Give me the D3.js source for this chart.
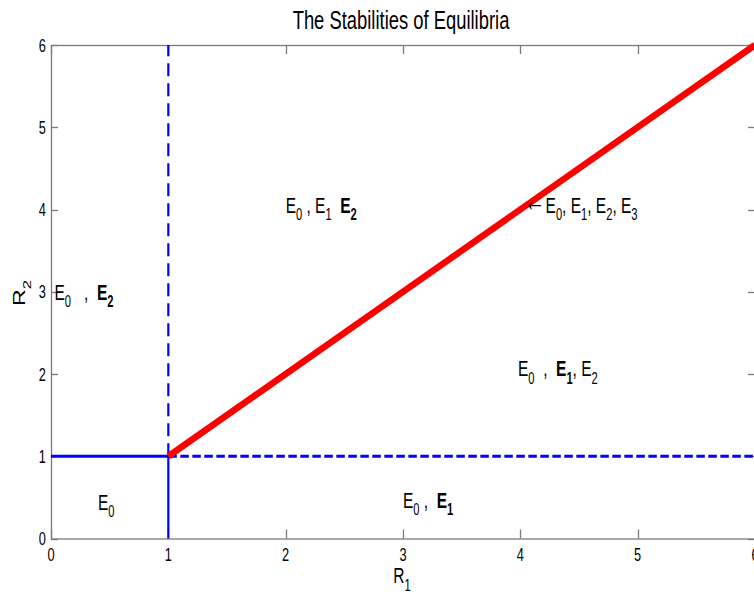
<!DOCTYPE html>
<html>
<head>
<meta charset="utf-8">
<script src="https://cdn.jsdelivr.net/npm/d3@7"></script>
<style>
  body { margin: 0; background: #fff; }
  svg { display: block; }
  text { font-family: "Liberation Sans", Arial, Helvetica, sans-serif; fill: #000; white-space: pre; }
</style>
</head>
<body>
<svg id="chart" width="754" height="600"></svg>
<script>
// ---- data ----
const xTicks = [0, 1, 2, 3, 4, 5, 6];
const yTicks = [0, 1, 2, 3, 4, 5, 6];
// Stability boundaries as [R1a, R2a, R1b, R2b]
const solidBoundaries = [[0, 1, 1, 1], [1, 0, 1, 1]];
const dashedBoundaries = [[1, 1, 1, 6], [1, 1, 6, 1]];
// R1 = R2 line where all four equilibria coexist
const diagonalR1 = [1, 6];
const diagonalR2 = [1, 6];
// Region annotations: anchor (R1, R2) and pieces [text, subscript, bold, enlarged]
const regionLabels = [
  { r1: 0.40, r2: 0.35, pieces: [["E", "0", 0]] },
  { r1: 3.00, r2: 0.37, pieces: [["E", "0", 0], [" ,  "], ["E", "1", 1]] },
  { r1: 2.00, r2: 3.96, pieces: [["E", "0", 0], [" , "], ["E", "1", 0], ["  "], ["E", "2", 1]] },
  { r1: 0.03, r2: 2.90, pieces: [["E", "0", 0], ["   ,  "], ["E", "2", 1]] },
  { r1: 3.98, r2: 1.97, pieces: [["E", "0", 0], ["  ,  "], ["E", "1", 1], [", "], ["E", "2", 0]] },
  { r1: 4.03, r2: 3.96, pieces: [["\u2190", null, 0, 1], ["E", "0", 0], [", "], ["E", "1", 0], [", "], ["E", "2", 0], [", "], ["E", "3", 0]] }
];
const titleText = "The Stabilities of Equilibria";

// ---- layout ----
const svg = d3.select("#chart");
const plotL = 51, plotR = 755, plotT = 45, plotB = 538.5;
const VS = 1.45; // vertical stretch applied to all glyphs
const axisColor = "#7a7a7a";

const x = d3.scaleLinear().domain([0, 6]).range([plotL, plotR]);
const y = d3.scaleLinear().domain([0, 6]).range([plotB, plotT]);

// plot box
svg.append("rect")
  .attr("x", plotL + 0.5).attr("y", plotT + 0.5)
  .attr("width", plotR - plotL).attr("height", plotB - plotT)
  .attr("fill", "none").attr("stroke", axisColor).attr("stroke-width", 1.3);

// inward ticks on all four sides
const tickLen = 9;
const tickG = svg.append("g").attr("stroke", axisColor).attr("stroke-width", 1.3);
xTicks.forEach(t => {
  const px = Math.round(x(t)) + 0.5;
  tickG.append("line").attr("x1", px).attr("x2", px).attr("y1", plotB).attr("y2", plotB - tickLen);
  tickG.append("line").attr("x1", px).attr("x2", px).attr("y1", plotT).attr("y2", plotT + tickLen);
});
yTicks.forEach(t => {
  const py = Math.round(y(t)) + 0.5;
  tickG.append("line").attr("x1", plotL).attr("x2", plotL + 7).attr("y1", py).attr("y2", py);
  tickG.append("line").attr("x1", plotR).attr("x2", plotR - 7).attr("y1", py).attr("y2", py);
});

// text drawn with the same vertical stretch as the rest of the figure
function stretchedText(px, py, anchor, size, rotate) {
  const g = svg.append("g")
    .attr("transform", `translate(${px},${py}) scale(1,${VS})` + (rotate ? ` rotate(${rotate})` : ""));
  return g.append("text").attr("text-anchor", anchor).attr("font-size", size);
}

// tick labels
xTicks.forEach(t => {
  stretchedText(x(t), 561, "middle", 12.8).text(d3.format("d")(t));
});
yTicks.forEach(t => {
  stretchedText(46, y(t) + 6.5, "end", 12.8).text(d3.format("d")(t));
});

// title
stretchedText(401, 29, "middle", 18.4).text(titleText);

// axis labels with subscripts
function subLabel(px, py, anchor, size, main, sub, rotate) {
  const t = stretchedText(px, py, anchor, size, rotate);
  t.append("tspan").text(main);
  t.append("tspan").attr("font-size", size * 0.72).attr("dy", size * 0.36).text(sub);
  return t;
}
subLabel(402, 583, "middle", 15.5, "R", "1");
subLabel(25, 293, "middle", 16, "R", "2", -90);

// boundaries
const line = d3.line().x(d => x(d[0])).y(d => y(d[1]));
solidBoundaries.forEach(s => {
  const horiz = s[1] === s[3];
  svg.append("path").attr("d", line([[s[0], s[1]], [s[2], s[3]]]))
    .attr("stroke", "#0000ff").attr("stroke-width", horiz ? 3 : 2.2).attr("fill", "none");
});
dashedBoundaries.forEach(s => {
  const horiz = s[1] === s[3];
  svg.append("path").attr("d", line([[s[0], s[1]], [s[2], s[3]]]))
    .attr("stroke", "#0000ff").attr("stroke-width", horiz ? 3 : 2.2).attr("fill", "none")
    .attr("stroke-dasharray", horiz ? "8.5,3.5" : "13,7");
});
svg.append("path")
  .attr("d", line(diagonalR1.map((r, i) => [r, diagonalR2[i]])))
  .attr("stroke", "#ff0000").attr("stroke-width", 6.5).attr("fill", "none");

// region annotations
const labelSize = 15.5;
const subShift = labelSize * 0.32;
regionLabels.forEach(lab => {
  const t = stretchedText(x(lab.r1), y(lab.r2), "start", labelSize);
  let pending = 0; // baseline offset carried from a previous subscript
  let lifted = 0;  // offset carried from an enlarged glyph
  lab.pieces.forEach(p => {
    const main = t.append("tspan").text(p[0]);
    let dy = -pending - lifted;
    pending = 0; lifted = 0;
    if (p[3]) { main.attr("font-size", labelSize * 1.4); dy -= 1; lifted = -1; }
    if (dy) main.attr("dy", dy);
    if (p[2]) main.attr("font-weight", "bold");
    if (p[1]) {
      const sub = t.append("tspan").attr("font-size", labelSize * 0.72)
        .attr("dy", subShift).text(p[1]);
      if (p[2]) sub.attr("font-weight", "bold");
      pending = subShift;
    }
  });
});
</script>
</body>
</html>
